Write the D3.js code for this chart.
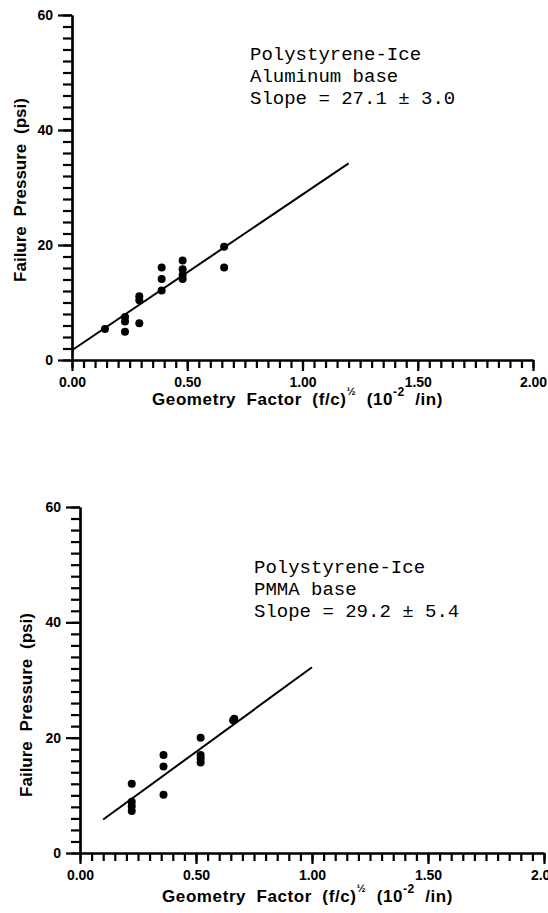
<!DOCTYPE html>
<html>
<head>
<meta charset="utf-8">
<script src="https://cdn.jsdelivr.net/npm/d3@7"></script>
<style>
  body { margin: 0; background: #fff; }
  .tick text { font-family: "Liberation Sans", Arial, sans-serif; font-weight: bold; font-size: 14px; fill: #000; }
  .axis-label { font-family: "Liberation Sans", Arial, sans-serif; font-weight: bold; font-size: 17px; fill: #000; }
  .note { font-family: "Liberation Mono", "Courier New", monospace; font-size: 19px; fill: #000; }
</style>
</head>
<body>
<div id="chart"></div>
<script>
// top panel: aluminum base
const alX = [0.143, 0.23, 0.23, 0.23, 0.292, 0.292, 0.292, 0.389, 0.389, 0.389, 0.48, 0.48, 0.48, 0.48, 0.66, 0.66];
const alY = [5.4, 7.5, 6.7, 4.9, 11.1, 10.4, 6.4, 16.1, 14.1, 12.1, 17.3, 15.8, 14.8, 14.1, 19.7, 16.1];
const alFit = [[0, 1.7], [1.2, 34.2]];
const alNote = ["Polystyrene-Ice", "Aluminum base", "Slope = 27.1 ± 3.0"];

// bottom panel: PMMA base
const pmX = [0.223, 0.223, 0.223, 0.223, 0.36, 0.36, 0.36, 0.52, 0.52, 0.52, 0.52, 0.66, 0.665];
const pmY = [12.0, 8.9, 8.1, 7.3, 17.0, 15.0, 10.1, 20.0, 17.0, 16.4, 15.7, 23.0, 23.3];
const pmFit = [[0.1, 5.8], [1.0, 32.2]];
const pmNote = ["Polystyrene-Ice", "PMMA base", "Slope = 29.2 ± 5.4"];

const xMajor = [0, 0.5, 1.0, 1.5, 2.0];
const xMinor = d3.range(0, 41).map(i => i * 0.05);
const yMajor = [0, 20, 40, 60];
const yMinor = d3.range(0, 31).map(i => i * 2);

const width = 548, height = 913;
const svg = d3.select("#chart").append("svg")
  .attr("width", width)
  .attr("height", height);

function drawPanel(p) {
  const x = d3.scaleLinear().domain([0, 2]).range([p.left, p.right]);
  const y = d3.scaleLinear().domain([0, 60]).range([p.bottom, p.top]);
  const g = svg.append("g");

  // minor ticks (no labels)
  g.append("g")
    .attr("transform", `translate(0, ${p.bottom})`)
    .call(d3.axisBottom(x).tickValues(xMinor).tickSize(8).tickSizeOuter(0).tickFormat(() => ""));
  g.append("g")
    .attr("transform", `translate(${p.left}, 0)`)
    .call(d3.axisLeft(y).tickValues(yMinor).tickSize(9).tickSizeOuter(0).tickFormat(() => ""));

  // major ticks with labels
  const xa = g.append("g")
    .attr("transform", `translate(0, ${p.bottom})`)
    .call(d3.axisBottom(x).tickValues(xMajor).tickSize(11).tickSizeOuter(0).tickFormat(d3.format(".2f")));
  xa.selectAll(".tick text").attr("y", 17).attr("dy", "0.71em");

  g.append("g")
    .attr("transform", `translate(${p.left}, 0)`)
    .call(d3.axisLeft(y).tickValues(yMajor).tickSize(14).tickSizeOuter(0).tickPadding(5));

  g.selectAll(".domain, .tick line").attr("stroke", "#000").attr("stroke-width", 2.2);

  // fit line
  g.append("path")
    .datum(p.fit)
    .attr("fill", "none")
    .attr("stroke", "#000")
    .attr("stroke-width", 2)
    .attr("d", d3.line().x(d => x(d[0])).y(d => y(d[1])));

  // points
  g.selectAll("circle.pt")
    .data(p.xs.map((v, i) => [v, p.ys[i]]))
    .join("circle")
      .attr("class", "pt")
      .attr("cx", d => x(d[0]))
      .attr("cy", d => y(d[1]))
      .attr("r", 4)
      .attr("fill", "#000");

  // note
  const note = g.append("text").attr("class", "note")
    .attr("x", p.noteX).attr("y", p.noteY);
  p.note.forEach((t, i) => {
    note.append("tspan").attr("x", p.noteX).attr("dy", i === 0 ? 0 : 22).text(t);
  });

  // y label
  g.append("text")
    .attr("class", "axis-label")
    .attr("text-anchor", "middle")
    .attr("font-size", p.ylabSize)
    .attr("word-spacing", 5)
    .attr("transform", `translate(${p.ylabX}, ${p.ylabY}) rotate(-90)`)
    .text("Failure Pressure (psi)");

  // x label
  const xl = g.append("text")
    .attr("class", "axis-label")
    .attr("x", p.xlabX)
    .attr("y", p.xlabY)
    .attr("letter-spacing", 0.6)
    .attr("word-spacing", 5);
  xl.append("tspan").text("Geometry Factor (f/c)");
  xl.append("tspan").attr("dy", -10).attr("font-size", 11).text("½");
  xl.append("tspan").attr("dy", 10).text(" (10");
  xl.append("tspan").attr("dy", -9).attr("font-size", 12).text(p.exp);
  xl.append("tspan").attr("dy", 9).text(" /in)");
}

drawPanel({ left: 72, right: 533, top: 15, bottom: 360, xs: alX, ys: alY, fit: alFit,
  note: alNote, noteX: 250, noteY: 60, ylabX: 26, ylabY: 190, ylabSize: 17,
  xlabX: 152, xlabY: 405, exp: "-2" });
drawPanel({ left: 80, right: 544, top: 507, bottom: 853, xs: pmX, ys: pmY, fit: pmFit,
  note: pmNote, noteX: 254, noteY: 573, ylabX: 32, ylabY: 705, ylabSize: 15,
  xlabX: 162, xlabY: 902, exp: "-2" });
</script>
</body>
</html>
